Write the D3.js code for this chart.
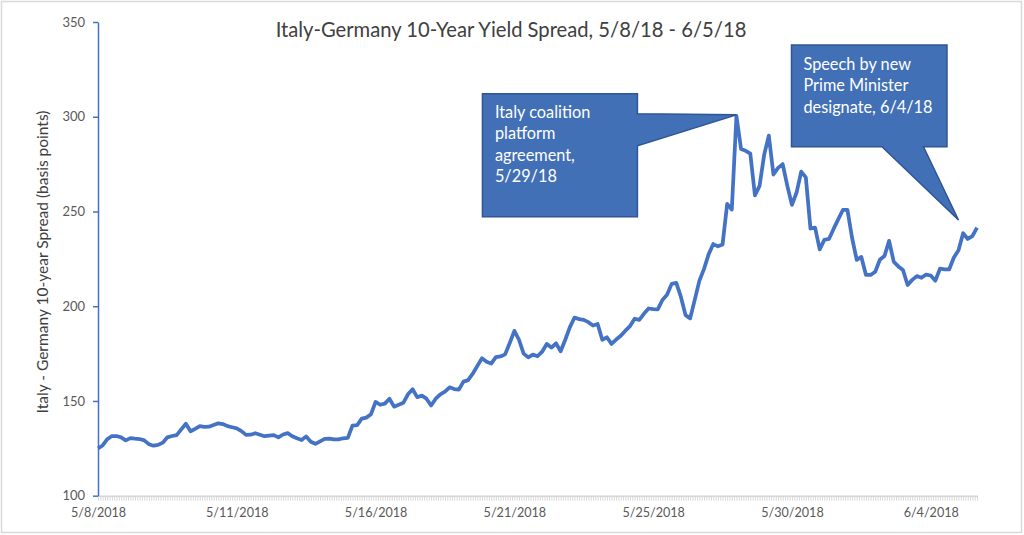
<!DOCTYPE html>
<html>
<head>
<meta charset="utf-8">
<script src="https://cdn.jsdelivr.net/npm/d3@7"></script>
<style>
  html, body { margin: 0; padding: 0; background: #fff; }
  svg { display: block; font-family: Lato, "Open Sans", sans-serif; }
</style>
</head>
<body>
<svg id="chart" width="1024" height="535"></svg>
<script>
// spread in basis points, one value per category slot (intraday samples)
const spread = [
  125.0, 126.5, 129.8, 131.5, 131.5, 130.8, 129.2, 130.4, 130.1, 129.9,
  129.2, 127.2, 126.4, 126.8, 128.0, 130.8, 131.5, 132.0, 135.0, 138.0,
  134.0, 135.3, 136.7, 136.3, 136.4, 137.3, 138.2, 137.8, 136.7, 136.1,
  135.5, 134.1, 132.1, 132.2, 133.0, 132.2, 131.4, 131.7, 132.0, 130.8,
  132.3, 133.0, 131.4, 130.3, 129.4, 131.3, 128.5, 127.4, 128.7, 130.0,
  130.1, 129.7, 129.7, 130.3, 130.5, 137.0, 137.2, 140.7, 141.2, 143.0,
  149.5, 148.0, 148.6, 151.2, 147.0, 148.0, 149.0, 153.5, 156.2, 152.0,
  152.8, 151.2, 147.6, 151.2, 153.5, 154.9, 157.2, 156.3, 156.0, 160.2,
  161.0, 164.4, 168.5, 172.5, 170.7, 169.7, 173.1, 173.5, 174.6, 180.6,
  187.0, 182.3, 175.0, 173.0, 174.5, 173.6, 176.0, 180.1, 178.2, 180.4,
  176.2, 182.3, 189.0, 194.0, 193.2, 192.8, 191.6, 189.8, 190.6, 182.3,
  183.6, 180.1, 182.4, 184.4, 187.1, 189.5, 193.4, 192.8, 196.0, 198.8,
  198.5, 198.3, 203.3, 206.0, 211.8, 212.3, 204.9, 195.3, 193.6, 203.5,
  213.5, 219.7, 227.5, 232.8, 231.6, 232.6, 254.0, 251.0, 300.4, 283.0,
  282.0, 280.5, 258.5, 263.5, 280.0, 290.0, 269.5, 273.0, 275.0, 263.5,
  253.5, 260.0, 271.0, 268.0, 241.0, 241.5, 230.0, 235.0, 235.5, 240.8,
  245.8, 250.8, 250.8, 236.0, 224.5, 226.0, 216.5, 216.5, 218.2, 224.5,
  226.5, 234.5, 223.5, 221.0, 219.1, 211.2, 213.9, 215.9, 215.0, 216.7,
  216.2, 213.5, 219.8, 219.5, 219.5, 225.7, 229.5, 238.5, 235.5, 237.0,
  241.5
];

// category labels shown on the axis, one every labelStep slots
const xLabels = ["5/8/2018", "5/11/2018", "5/16/2018", "5/21/2018", "5/25/2018", "5/30/2018", "6/4/2018"];
const labelStep = 30;

const yTicks = [100, 150, 200, 250, 300, 350];

// callouts: text lines plus the data point the pointer touches
const noteText = [
  ["Italy coalition", "platform", "agreement,", "5/29/18"],
  ["Speech by new", "Prime Minister", "designate, 6/4/18"]
];
const noteIndex = [138, 186];
const noteValue = [301, 245.5];

const W = 1024, H = 535;
const m = { top: 22, right: 47, bottom: 39.3, left: 98 };

const svg = d3.select("#chart");

// outer chart border
svg.append("rect")
  .attr("x", 1.5).attr("y", 1.5)
  .attr("width", W - 4).attr("height", H - 4)
  .attr("fill", "#fff").attr("stroke", "#d9d9d9").attr("stroke-width", 1.5);

const x = d3.scalePoint()
  .domain(d3.range(spread.length))
  .range([m.left, W - m.right]);

// same span as a continuous scale, only for the dense grey tick band
const xMinor = d3.scaleLinear()
  .domain([0, spread.length - 1])
  .range([m.left, W - m.right]);

const y = d3.scaleLinear()
  .domain([100, 350])
  .range([H - m.bottom, m.top]);

// x axis: dense grey category ticks
svg.append("g")
  .attr("transform", `translate(0,${H - m.bottom})`)
  .call(d3.axisBottom(xMinor)
    .tickValues(d3.range(0, spread.length - 0.9, 0.5))
    .tickSizeInner(5).tickSizeOuter(0).tickFormat(""))
  .call(g => g.select(".domain").attr("stroke", "#d9d9d9").attr("stroke-width", 1.5))
  .call(g => g.selectAll(".tick line").attr("stroke", "#cfcfcf").attr("stroke-width", 0.8));

svg.append("g")
  .attr("transform", `translate(0,${H - m.bottom})`)
  .call(d3.axisBottom(x)
    .tickValues(xLabels.map((d, i) => i * labelStep))
    .tickSize(0).tickPadding(12)
    .tickFormat(d => xLabels[d / labelStep]))
  .call(g => g.select(".domain").remove())
  .call(g => g.selectAll("text").attr("fill", "#595959").attr("font-size", 12.6)
    .attr("font-family", "Lato, sans-serif"));

// y axis in series blue
svg.append("g")
  .attr("transform", `translate(${m.left},0)`)
  .call(d3.axisLeft(y).tickValues(yTicks).tickSizeInner(5).tickSizeOuter(0).tickPadding(8))
  .call(g => g.select(".domain").attr("stroke", "#4472c4").attr("stroke-width", 1.5))
  .call(g => g.selectAll(".tick line").attr("stroke", "#4472c4").attr("stroke-width", 1.5))
  .call(g => g.selectAll("text").attr("fill", "#595959").attr("font-size", 13)
    .attr("font-family", "Lato, sans-serif"));

// series line
const line = d3.line()
  .x((d, i) => x(i))
  .y(d => y(d));

svg.append("path")
  .datum(spread)
  .attr("fill", "none")
  .attr("stroke", "#4472c4")
  .attr("stroke-width", 3.75)
  .attr("stroke-linejoin", "round")
  .attr("d", line);

// title
svg.append("text")
  .attr("x", 511).attr("y", 36.5)
  .attr("text-anchor", "middle")
  .attr("fill", "#404040").attr("font-size", 20.2)
  .text("Italy-Germany 10-Year Yield Spread, 5/8/18 - 6/5/18");

// y axis title
svg.append("text")
  .attr("transform", "translate(48,262) rotate(-90)")
  .attr("text-anchor", "middle")
  .attr("fill", "#404040").attr("font-size", 15.5)
  .text("Italy - Germany 10-year Spread (basis points)");

// callout shapes, box placed relative to the tip
const tips = noteIndex.map((d, i) => [x(d), y(noteValue[i])]);

function calloutRight(t) {
  // box to the left, wedge out of its right side
  const [tx, ty] = t;
  const bx0 = tx - 254, bx1 = tx - 99, by0 = ty - 21, by1 = ty + 102;
  return [[bx0, by0], [bx1, by0], [bx1, ty - 1], [tx, ty], [bx1, ty + 31],
          [bx1, by1], [bx0, by1]];
}
function calloutBelow(t) {
  // box up-left, wedge out of its bottom side
  const [tx, ty] = t;
  const bx0 = tx - 167, bx1 = tx - 11.5, by0 = ty - 175, by1 = ty - 73.3;
  return [[bx0, by0], [bx1, by0], [bx1, by1], [tx - 35, by1], [tx, ty],
          [tx - 76.5, by1], [bx0, by1]];
}
const shapes = [calloutRight(tips[0]), calloutBelow(tips[1])];
const textPos = [
  [tips[0][0] - 241.5, tips[0][1] + 3],
  [tips[1][0] - 155, tips[1][1] - 150.2]
];

shapes.forEach((pts, i) => {
  svg.append("path")
    .attr("d", "M" + pts.map(p => p.join(",")).join("L") + "Z")
    .attr("fill", "#4270b6")
    .attr("stroke", "#2f5597")
    .attr("stroke-width", 1.5)
    .attr("stroke-linejoin", "miter");

  const t = svg.append("text")
    .attr("x", textPos[i][0]).attr("y", textPos[i][1])
    .attr("fill", "#fff").attr("font-size", 16.3);
  noteText[i].forEach((s, k) => {
    t.append("tspan").attr("x", textPos[i][0]).attr("dy", k === 0 ? 0 : 21.5).text(s);
  });
});
</script>
</body>
</html>
